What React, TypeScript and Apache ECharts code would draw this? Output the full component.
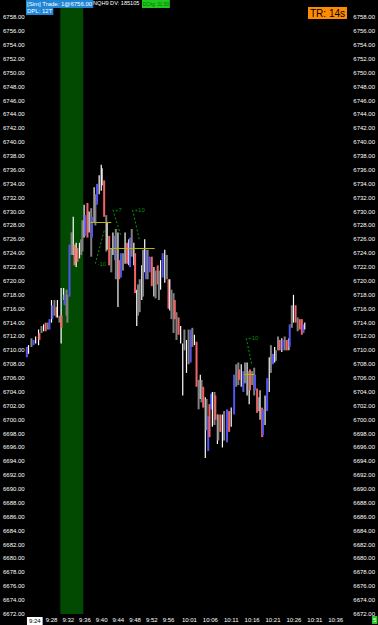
import React, { useEffect, useRef } from "react";
import * as echarts from "echarts";

const FONT = "'Liberation Sans', Arial, sans-serif";

// minutes after 9:00
const timeTicks = [24, 28, 32, 36, 40, 44, 48, 52, 56, 61, 66, 71, 76, 81, 86, 91, 96];
const highlightTick = 24;

const barTime = [
  22.1, 22.5, 23.2, 23.7, 24.2, 24.9, 25.1, 25.6, 26.1, 26.6,
  27.1, 27.5, 28.0, 28.2, 28.7, 29.2, 29.4, 29.9, 30.3, 30.4,
  30.9, 31.1, 31.6, 31.8, 32.3, 32.8, 33.2, 33.5, 33.9, 34.2,
  34.7, 35.1, 35.4, 35.8, 36.1, 36.6, 37.0, 37.5, 37.7, 38.2,
  38.5, 38.9, 39.4, 39.9, 40.1, 40.6, 41.1, 41.3, 41.8, 42.3,
  42.7, 43.2, 43.4, 43.9, 44.2, 44.6, 45.1, 45.6, 46.1, 46.5,
  46.8, 47.2, 47.7, 48.0, 48.4, 48.7, 49.1, 49.6, 49.9, 50.3,
  50.6, 51.0, 51.5, 52.0, 52.5, 52.9, 53.4, 53.7, 54.1, 54.6,
  55.1, 55.6, 56.0, 56.3, 56.7, 57.2, 57.5, 57.9, 58.4, 58.9,
  59.4, 59.8, 60.3, 60.8, 61.3, 61.7, 62.2, 62.7, 63.2, 63.6,
  63.9, 64.3, 64.8, 65.1, 65.5, 65.8, 66.2, 66.5, 67.0, 67.2,
  67.7, 67.9, 68.4, 68.9, 69.3, 70.0, 70.5, 71.0, 71.7, 72.2,
  72.7, 72.9, 73.4, 73.9, 74.3, 74.8, 75.3, 75.5, 76.0, 76.5,
  76.7, 77.2, 77.6, 77.9, 78.4, 78.6, 79.1, 79.6, 80.1, 80.5,
  81.0, 81.4, 81.7, 82.2, 82.6, 83.1, 83.3, 83.8, 84.3, 84.8,
  85.0, 85.5, 85.9, 86.4, 86.9, 87.4, 87.9, 88.3, 88.6,
];

const barHigh = [
  6710.5, 6710.75, 6711.75, 6711.5, 6712.0, 6713.0, 6712.5, 6713.5, 6713.75, 6714.0,
  6714.0, 6714.5, 6717.25, 6716.5, 6717.25, 6716.25, 6717.25, 6715.0, 6719.0, 6715.0,
  6719.0, 6718.0, 6718.75, 6718.0, 6725.25, 6727.0, 6729.25, 6725.25, 6725.5, 6724.75,
  6725.5, 6726.0, 6728.75, 6731.0, 6729.5, 6731.25, 6730.0, 6730.5, 6729.25, 6733.5,
  6732.5, 6734.0, 6735.25, 6736.75, 6736.25, 6734.5, 6729.5, 6728.5, 6726.5, 6724.75,
  6727.0, 6726.5, 6727.5, 6727.0, 6723.0, 6724.0, 6724.0, 6727.0, 6725.5, 6726.0,
  6726.25, 6727.5, 6725.5, 6724.0, 6718.75, 6719.5, 6720.25, 6722.25, 6724.5, 6726.0,
  6724.5, 6724.5, 6723.5, 6723.5, 6722.0, 6721.5, 6722.25, 6721.5, 6723.0, 6724.0,
  6724.5, 6723.75, 6720.25, 6720.25, 6718.75, 6718.25, 6717.25, 6715.5, 6714.75, 6713.5,
  6711.0, 6713.0, 6711.5, 6713.0, 6713.0, 6713.25, 6712.25, 6711.25, 6705.75, 6706.5,
  6705.75, 6704.75, 6703.25, 6703.0, 6700.5, 6702.25, 6703.75, 6704.0, 6704.0, 6703.5,
  6700.75, 6700.75, 6700.75, 6700.75, 6701.25, 6701.5, 6701.25, 6701.75, 6706.5, 6708.0,
  6708.25, 6707.25, 6708.0, 6707.0, 6708.25, 6708.25, 6707.0, 6707.25, 6707.0, 6707.5,
  6706.5, 6704.5, 6703.25, 6704.25, 6701.75, 6701.5, 6703.5, 6706.0, 6709.0, 6710.75,
  6709.5, 6710.5, 6710.0, 6712.0, 6711.5, 6711.75, 6711.5, 6712.0, 6711.5, 6711.75,
  6713.75, 6716.5, 6718.0, 6716.5, 6714.75, 6714.5, 6714.5, 6713.75, 6714.0,
];

const barLow = [
  6709.0, 6709.5, 6710.5, 6710.75, 6711.0, 6710.75, 6711.5, 6712.5, 6712.75, 6712.75,
  6713.0, 6713.0, 6714.0, 6714.5, 6715.0, 6714.75, 6714.75, 6714.0, 6711.0, 6713.25,
  6717.25, 6716.5, 6715.0, 6714.0, 6717.75, 6723.75, 6723.75, 6722.25, 6722.0, 6722.75,
  6723.25, 6723.75, 6724.25, 6726.25, 6726.5, 6726.25, 6727.0, 6723.5, 6726.25, 6728.5,
  6728.0, 6731.0, 6732.5, 6733.0, 6733.75, 6729.25, 6724.25, 6724.5, 6722.25, 6721.25,
  6723.75, 6723.0, 6720.25, 6716.25, 6720.25, 6720.5, 6721.5, 6722.5, 6722.5, 6722.25,
  6722.0, 6723.5, 6722.25, 6718.25, 6713.5, 6715.0, 6715.5, 6717.25, 6717.75, 6721.25,
  6720.25, 6720.25, 6721.25, 6719.25, 6717.75, 6717.5, 6719.5, 6717.25, 6718.75, 6720.5,
  6719.75, 6720.25, 6716.0, 6715.75, 6714.5, 6712.5, 6714.5, 6711.5, 6712.25, 6711.0,
  6703.5, 6710.0, 6706.75, 6708.0, 6708.25, 6710.5, 6710.75, 6704.75, 6701.5, 6703.0,
  6702.5, 6701.75, 6694.5, 6698.5, 6695.5, 6697.5, 6701.5, 6699.0, 6699.25, 6700.0,
  6696.5, 6697.0, 6698.25, 6696.0, 6697.0, 6696.75, 6698.25, 6699.0, 6700.75, 6704.75,
  6705.0, 6705.75, 6704.75, 6704.0, 6705.25, 6703.5, 6702.25, 6704.25, 6705.0, 6703.5,
  6704.25, 6701.0, 6701.25, 6700.0, 6697.5, 6697.75, 6699.25, 6701.25, 6704.0, 6706.75,
  6708.0, 6708.25, 6708.5, 6710.0, 6710.0, 6709.75, 6710.0, 6710.0, 6710.0, 6710.0,
  6710.5, 6713.25, 6714.0, 6714.0, 6712.75, 6713.0, 6712.25, 6712.5, 6713.0,
];

// w = white, g = gray, r = red, b = blue
const barTone = (
  "bwgbwwrgwr" + "gbwbgrwgwr" + "wbggbgwrwr" + "wggwbrwgbw" + "gbwwwrgwrg" +
  "wbgwrbgwrw" + "bgwrwggwgw" + "bgbrwgrgwb" + "wgrwggrgrw" + "wgwgbgwrgw" +
  "grwgbrbwgr" + "wgrwgbrwbg" + "grwbgwwrgg" + "brgwrbwbwg" + "bwggrwbgrw" +
  "bgwrgrrbw"
).split("");

const openZone = [30.1, 35.6];
const lastPrice = 6713.5;

const tradeStart = [[38.5, 6722.5], [42.7, 6730.25], [47.4, 6730.25], [74.6, 6711.75]];
const tradeEnd = [[40.6, 6727.25], [44.6, 6726.5], [49.1, 6725.75], [76.0, 6707.75]];
const tradeLabel = ["-10", "+7", "+10", "+10"];

const levelStart = [37.3, 41.8, 74.1];
const levelEnd = [42.3, 52.7, 76.5];
const levelPrice = [6728.5, 6724.75, 6706.5];

const toneColor: Record<string, string> = {
  w: "#ffffff",
  g: "#808080",
  r: "#f26464",
  b: "#5454ee",
};
const toneWidth: Record<string, number> = { w: 1.2, g: 2, r: 2, b: 2 };

function fmtTime(v: number) {
  const h = 9 + Math.floor(v / 60);
  const m = Math.round(v % 60);
  return `${h}:${m < 10 ? "0" + m : m}`;
}

export default function App() {
  const ref = useRef<HTMLDivElement>(null);
  useEffect(() => {
    if (!ref.current) return;
    const chart = echarts.init(ref.current, null, { renderer: "svg" });
    const yLabel = {
      color: "#ffffff",
      fontSize: 6,
      fontFamily: FONT,
      formatter: (v: number) => (v > 6758 ? "" : v.toFixed(2)),
    };
    const option: any = {
      animation: false,
      backgroundColor: "#000000",
      textStyle: { fontFamily: FONT },
      grid: { left: 26, right: 26, top: 0, bottom: 10 },
      xAxis: {
        type: "value",
        min: 22.06,
        max: 99.5,
        axisLine: { show: false },
        axisTick: { show: false },
        splitLine: { show: false },
        axisLabel: {
          customValues: timeTicks,
          color: "#ffffff",
          fontSize: 6,
          fontFamily: FONT,
          margin: 3,
          formatter: (v: number) =>
            v === highlightTick ? `{hl|${fmtTime(v)}}` : fmtTime(v),
          rich: {
            hl: {
              backgroundColor: "#ffffff",
              color: "#000000",
              fontSize: 6,
              fontFamily: FONT,
              padding: [1, 2],
            },
          },
        },
      },
      yAxis: [
        {
          type: "value",
          position: "left",
          min: 6672,
          max: 6760.5,
          interval: 2,
          axisLine: { show: false },
          axisTick: { show: false },
          splitLine: { show: false },
          axisLabel: { ...yLabel, margin: 2 },
        },
        {
          type: "value",
          position: "right",
          min: 6672,
          max: 6760.5,
          interval: 2,
          axisLine: { show: false },
          axisTick: { show: false },
          splitLine: { show: false },
          axisLabel: { ...yLabel, margin: 3 },
        },
      ],
      series: [
        {
          type: "line",
          z: 0,
          data: [[openZone[0], 6672]],
          symbol: "none",
          lineStyle: { opacity: 0 },
          markArea: {
            silent: true,
            itemStyle: { color: "#024a02" },
            data: [[{ xAxis: openZone[0] }, { xAxis: openZone[1] }]],
          },
        },
        {
          type: "custom",
          z: 2,
          data: barTime.map((t, i) => [t, barLow[i], barHigh[i]]),
          encode: { x: 0, y: [1, 2] },
          renderItem: (params: any, api: any) => {
            const t = api.value(0);
            const lo = api.value(1);
            const hi = api.value(2);
            const tone = barTone[params.dataIndex];
            const top = api.coord([t, hi]);
            const bot = api.coord([t, lo]);
            const w = toneWidth[tone];
            return {
              type: "rect",
              shape: {
                x: top[0] - w / 2,
                y: top[1],
                width: w,
                height: Math.max(1, bot[1] - top[1]),
              },
              style: { fill: toneColor[tone] },
            };
          },
        },
        {
          type: "scatter",
          z: 3,
          symbolSize: 0,
          data: tradeStart.map((p, i) => ({ value: p, name: tradeLabel[i] })),
          label: {
            show: true,
            position: "right",
            distance: 2,
            formatter: (p: any) => p.name,
            color: "#00b000",
            fontSize: 6,
            fontFamily: FONT,
          },
          markLine: {
            silent: true,
            symbol: ["none", "none"],
            label: { show: false },
            data: [
              ...tradeStart.map((s, i) => [
                { coord: s, lineStyle: { color: "#00a000", type: [2, 2], width: 1 } },
                { coord: tradeEnd[i] },
              ]),
              ...levelPrice.map((p, i) => [
                { coord: [levelStart[i], p], lineStyle: { color: "#b8b800", type: "solid", width: 1 } },
                { coord: [levelEnd[i], p] },
              ]),
              {
                yAxis: lastPrice,
                lineStyle: { opacity: 0 },
                label: {
                  show: true,
                  position: "end",
                  distance: 1,
                  formatter: lastPrice.toFixed(2),
                  backgroundColor: "#ffffff",
                  color: "#000000",
                  fontSize: 6,
                  lineHeight: 6,
                  fontFamily: FONT,
                  padding: [1, 2],
                },
              },
            ],
          },
        },
      ],
      graphic: [
        {
          type: "text",
          left: 26,
          top: 0,
          z: 10,
          style: {
            text: "[Sim] Trade: 1@6756.00",
            fill: "#ffffff",
            backgroundColor: "#1f86d6",
            font: `6px ${FONT}`,
            padding: [1, 1],
          },
        },
        {
          type: "text",
          left: 93,
          top: 0,
          z: 10,
          style: {
            text: "NQH9 DV: 185105",
            fill: "#ffffff",
            font: `5.6px ${FONT}`,
            padding: [1, 1],
          },
        },
        {
          type: "text",
          left: 142,
          top: 0,
          z: 10,
          style: {
            text: "DChg: 31.50",
            fill: "#0b6b0b",
            backgroundColor: "#1ec81e",
            font: `4.6px ${FONT}`,
            padding: [1.5, 1],
          },
        },
        {
          type: "text",
          left: 26,
          top: 7,
          z: 10,
          style: {
            text: "DPL: 12T",
            fill: "#ffffff",
            backgroundColor: "#1f86d6",
            font: `6px ${FONT}`,
            padding: [1, 1],
          },
        },
        {
          type: "text",
          left: 308,
          top: 7,
          z: 10,
          style: {
            text: "TR: 14s",
            fill: "#000000",
            backgroundColor: "#ff8c00",
            font: `10px ${FONT}`,
            padding: [1, 2],
          },
        },
        {
          type: "text",
          left: 372,
          top: 616,
          z: 10,
          style: {
            text: "5",
            fill: "#ffffff",
            backgroundColor: "#22c822",
            font: `6px ${FONT}`,
            padding: [1, 1],
          },
        },
      ],
    };
    chart.setOption(option);
    return () => chart.dispose();
  }, []);
  return (
    <div
      ref={ref}
      style={{ position: "fixed", left: 0, top: 0, width: 378, height: 625, background: "#000" }}
    />
  );
}
